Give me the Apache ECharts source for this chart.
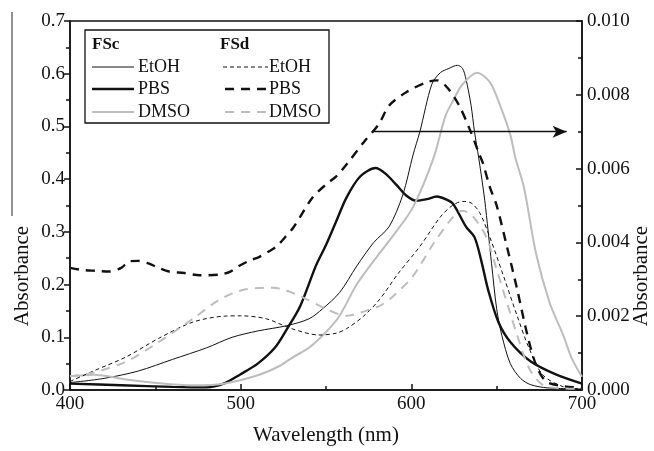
<!DOCTYPE html>
<html><head><meta charset="utf-8">
<script src="https://cdn.jsdelivr.net/npm/echarts@6/dist/echarts.min.js"></script>
<style>html,body{margin:0;padding:0;background:#fff}#c{width:654px;height:451px}</style>
</head><body><div id="c"></div>
<script>
// ---- data (wavelength in nm) ----
var fscEtohX = [400,420,440,460,480,495,510,527,540,548,558,568,578,587,595,601,605,612,617,622,627,630,632,635,637,639.5,643,647,650,653,658,664,670,680,700];
var fscEtohY = [0.014,0.022,0.036,0.058,0.080,0.100,0.112,0.122,0.135,0.154,0.185,0.235,0.280,0.310,0.370,0.446,0.490,0.580,0.602,0.610,0.616,0.610,0.590,0.540,0.490,0.440,0.360,0.240,0.154,0.104,0.050,0.022,0.010,0.004,0.002];

var fscPbsX = [400,430,460,480,490,500,510,520,527,535,544,550,556,562,570,579,585,591,597,603,609,615,620,624.5,632,637,641,645,651,658,670,685,700];
var fscPbsY = [0.012,0.009,0.006,0.005,0.012,0.030,0.050,0.080,0.115,0.160,0.235,0.275,0.320,0.365,0.405,0.421,0.410,0.390,0.369,0.359,0.362,0.367,0.362,0.353,0.310,0.290,0.245,0.190,0.129,0.091,0.054,0.029,0.012];

var fscDmsoX = [400,414,433,452,472,490,510,523,531,540,550,558,568,581.5,591,601,613,620,625,630,638.5,646,652,658,661,666,673,681,689,694,700];
var fscDmsoY = [0.026,0.029,0.020,0.013,0.009,0.012,0.028,0.046,0.063,0.080,0.110,0.141,0.200,0.260,0.300,0.347,0.440,0.520,0.552,0.580,0.602,0.584,0.540,0.484,0.440,0.384,0.260,0.166,0.104,0.060,0.025];

var fsdEtohX = [400,413,433,452,472,490,500,515,530,546,556,562,572,581.5,592,605,617,624,630,635,640,646,654,662,669,677,689,700];
var fsdEtohY = [0.00023,0.0005,0.0009,0.0014,0.00184,0.0020,0.00201,0.00193,0.00166,0.00149,0.00154,0.00166,0.0020,0.00246,0.00314,0.00389,0.00469,0.0050,0.00511,0.00507,0.00481,0.00414,0.00309,0.00201,0.00113,0.00041,0.00009,0.00003];

var fsdPbsX = [400,406,415,423,430,435,440,446,452,458,467,476,488,494,499,505,511,516,521,526,531,542,550,556,562,572,581,587,597,609,615,621,628,634,640,642,646,650,656,662,668,673,679,690,700];
var fsdPbsY = [0.00331,0.00326,0.00323,0.00321,0.00331,0.00349,0.0035,0.00343,0.00331,0.00321,0.00317,0.00311,0.00313,0.00321,0.00336,0.0035,0.00361,0.00374,0.00389,0.00414,0.00441,0.00521,0.00557,0.00579,0.00611,0.00671,0.00721,0.00771,0.00807,0.00834,0.00839,0.0082,0.00771,0.00709,0.00637,0.00614,0.0055,0.0050,0.00389,0.00273,0.00149,0.00069,0.00023,0.0001,0.00006];

var fsdDmsoX = [400,413,433,452,472,488,503,519,526,535,550,562,566,575,582,590,601,613,624.5,630,636,644,650,656,662,669,677,690,700];
var fsdDmsoY = [0.00037,0.00046,0.00077,0.0013,0.00193,0.00246,0.00273,0.00277,0.00271,0.00254,0.0022,0.00201,0.00204,0.00217,0.00229,0.00257,0.00309,0.00397,0.00469,0.00486,0.00471,0.00414,0.00326,0.00237,0.00149,0.00059,0.00014,0.00004,0.00003];

var arrowFrom = [577, 0.0070];
var arrowTo = [691, 0.0070];

var xTicks = [400, 700, 100];
var leftTicks = [0, 0.7, 0.1];
var rightTicks = [0, 0.010, 0.002];

function zip(xs, ys){ return xs.map(function(x,i){return [x, ys[i]];}); }

var FONT = 'Liberation Serif';
var BLACK = '#111';
var GRAY = '#bdbdbd';

var chart = echarts.init(document.getElementById('c'), null, {renderer:'canvas'});

function yAx(t, digits, pos, inside){
  return {
    type:'value', position:pos, min:t[0], max:t[1], interval:t[2],
    axisLine:{show:true, lineStyle:{color:BLACK, width:1.5}},
    axisTick:{show:true, inside:inside, length:6, lineStyle:{color:BLACK, width:1.5}},
    minorTick:{show:true, splitNumber:2, length:4, lineStyle:{color:BLACK, width:1.5}},
    splitLine:{show:false},
    axisLabel:{fontFamily:FONT, fontSize:19, color:BLACK, margin:5,
      formatter:function(v){return v.toFixed(digits);}}
  };
}

function line(name, xs, ys, yi, color, width, type){
  return {
    name:name, type:'line', yAxisIndex:yi, data:zip(xs,ys),
    showSymbol:false, symbol:'none', smooth:0.3,
    lineStyle:{color:color, width:width, type:type}, z:yi===1?3:2,
    animation:false
  };
}

var pbsD = line('FSd PBS', fsdPbsX, fsdPbsY, 1, BLACK, 2.4, [9,7]);
pbsD.markLine = {
  silent:true, symbol:['none','arrow'], symbolSize:[9,14],
  lineStyle:{color:BLACK, width:1.3, type:'solid'}, label:{show:false},
  animation:false,
  data:[[{coord:arrowFrom},{coord:arrowTo}]]
};

var legendG = [
  {type:'rect', shape:{x:85, y:30, width:244, height:93}, style:{fill:'#fff', stroke:BLACK, lineWidth:1.3}, z:100},
  {type:'text', x:92, y:45, style:{text:'FSc', font:'bold 17px "Liberation Serif"', fill:BLACK, textVerticalAlign:'middle'}, z:101},
  {type:'text', x:220, y:45, style:{text:'FSd', font:'bold 17px "Liberation Serif"', fill:BLACK, textVerticalAlign:'middle'}, z:101},
  {type:'line', shape:{x1:92,y1:67,x2:134,y2:67}, style:{stroke:BLACK, lineWidth:1}, z:101},
  {type:'line', shape:{x1:92,y1:89,x2:134,y2:89}, style:{stroke:BLACK, lineWidth:2.4}, z:101},
  {type:'line', shape:{x1:92,y1:112,x2:134,y2:112}, style:{stroke:GRAY, lineWidth:2}, z:101},
  {type:'line', shape:{x1:223,y1:67,x2:268,y2:67}, style:{stroke:BLACK, lineWidth:1, lineDash:[4,3]}, z:101},
  {type:'line', shape:{x1:225,y1:89,x2:268,y2:89}, style:{stroke:BLACK, lineWidth:2.4, lineDash:[9,7]}, z:101},
  {type:'line', shape:{x1:225,y1:112,x2:268,y2:112}, style:{stroke:GRAY, lineWidth:2, lineDash:[9,7]}, z:101}
];
[['EtOH',67],['PBS',89],['DMSO',112]].forEach(function(r){
  legendG.push({type:'text', x:138, y:r[1], style:{text:r[0], font:'18px "Liberation Serif"', fill:BLACK, textVerticalAlign:'middle'}, z:101});
  legendG.push({type:'text', x:269, y:r[1], style:{text:r[0], font:'18px "Liberation Serif"', fill:BLACK, textVerticalAlign:'middle'}, z:101});
});
legendG.push({type:'text', x:22, y:276, rotation:Math.PI/2, style:{text:'Absorbance', font:'21px "Liberation Serif"', fill:BLACK, textAlign:'center', textVerticalAlign:'middle'}});
legendG.push({type:'text', x:641, y:276, rotation:Math.PI/2, style:{text:'Absorbance', font:'21px "Liberation Serif"', fill:BLACK, textAlign:'center', textVerticalAlign:'middle'}});
legendG.push({type:'line', shape:{x1:12,y1:12,x2:12,y2:216}, style:{stroke:'#777', lineWidth:1.6}});

chart.setOption({
  animation:false,
  backgroundColor:'#fff',
  grid:{left:70, right:72, top:21, bottom:55.5, show:true, borderColor:BLACK, borderWidth:1.5, backgroundColor:'transparent'},
  xAxis:{
    type:'value', min:xTicks[0], max:xTicks[1], interval:xTicks[2],
    name:'Wavelength (nm)', nameLocation:'middle', nameGap:35,
    nameTextStyle:{fontFamily:FONT, fontSize:21, color:BLACK},
    axisLine:{show:true, lineStyle:{color:BLACK, width:1.5}},
    axisTick:{show:true, inside:true, length:6, lineStyle:{color:BLACK, width:1.5}},
    minorTick:{show:true, splitNumber:2, length:4, lineStyle:{color:BLACK, width:1.5}},
    splitLine:{show:false},
    axisLabel:{fontFamily:FONT, fontSize:19, color:BLACK, margin:5}
  },
  yAxis:[yAx(leftTicks,1,'left',false), yAx(rightTicks,3,'right',true)],
  series:[
    line('FSc EtOH', fscEtohX, fscEtohY, 0, BLACK, 1, 'solid'),
    line('FSc PBS', fscPbsX, fscPbsY, 0, BLACK, 2.4, 'solid'),
    line('FSc DMSO', fscDmsoX, fscDmsoY, 0, GRAY, 2, 'solid'),
    line('FSd EtOH', fsdEtohX, fsdEtohY, 1, BLACK, 1, [4,3]),
    pbsD,
    line('FSd DMSO', fsdDmsoX, fsdDmsoY, 1, GRAY, 2, [9,7])
  ],
  graphic:legendG
});
</script></body></html>
